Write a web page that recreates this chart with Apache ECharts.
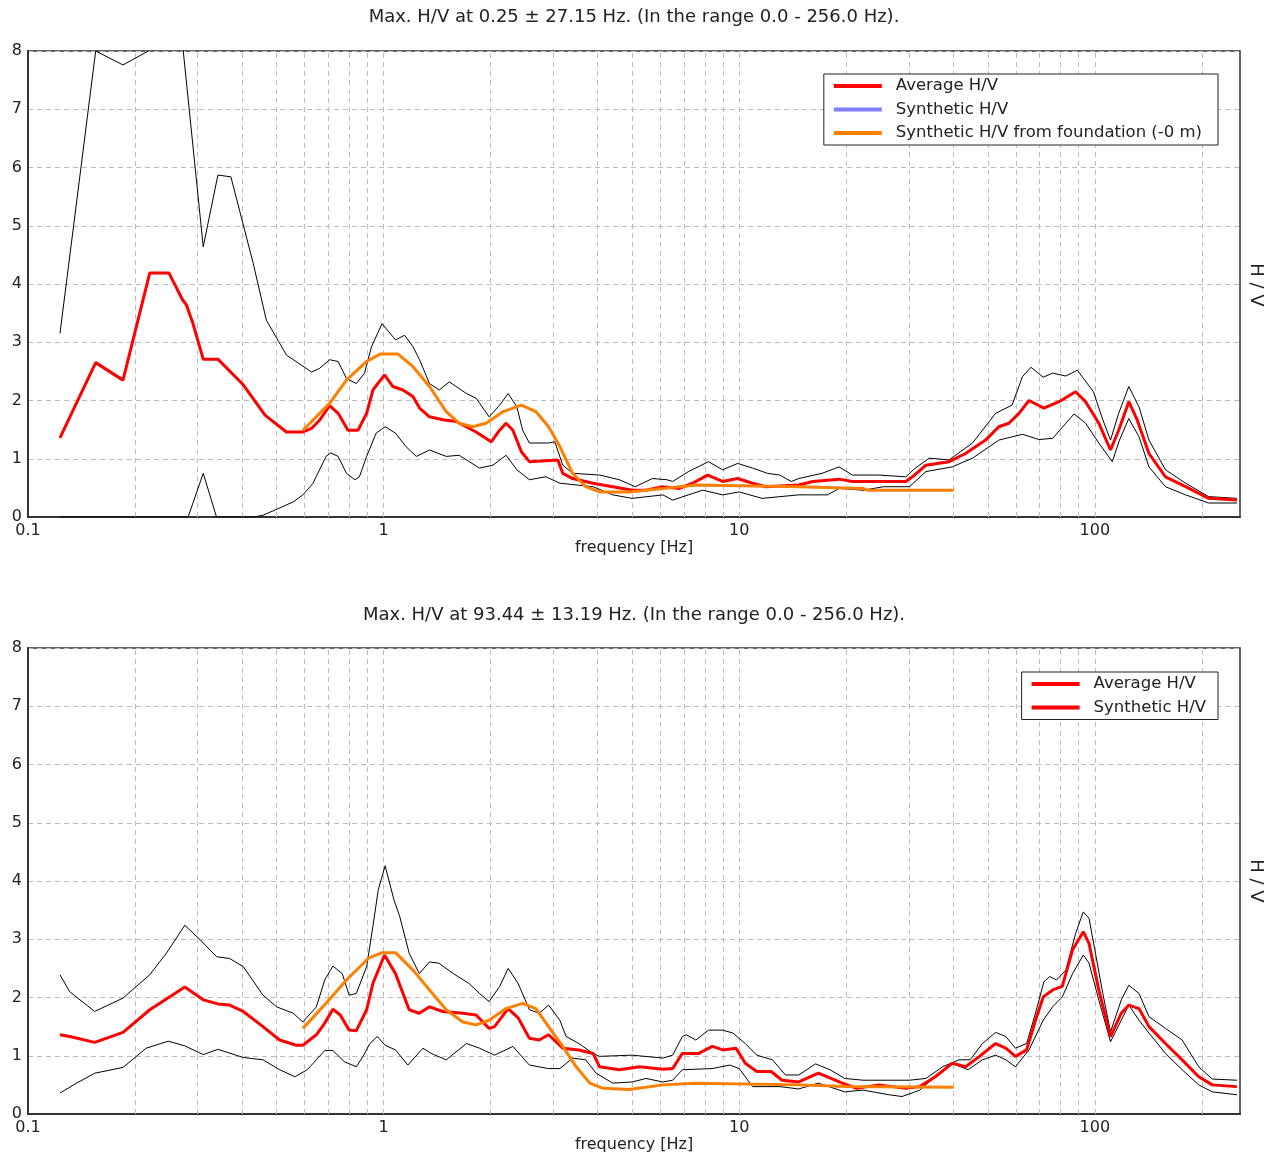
<!DOCTYPE html>
<html><head><meta charset="utf-8">
<script src="https://cdn.jsdelivr.net/npm/echarts@6/dist/echarts.min.js"></script>
<style>html,body{margin:0;padding:0;background:#fff}#c{width:1279px;height:1160px}</style>
</head><body><div id="c"></div><script>
// ---------- data ----------
const titles = [
  'Max. H/V at 0.25 \u00b1 27.15 Hz. (In the range 0.0 - 256.0 Hz).',
  'Max. H/V at 93.44 \u00b1 13.19 Hz. (In the range 0.0 - 256.0 Hz).'
];
const xTickLabels = [0.1, 1, 10, 100];
const yTickLabels = [0, 1, 2, 3, 4, 5, 6, 7, 8];
const legendTop = ['Average H/V', 'Synthetic H/V', 'Synthetic H/V from foundation (-0 m)'];
const legendBottom = ['Average H/V', 'Synthetic H/V #2'];

// top chart: [frequency Hz, H/V]
const topAvg = [[0.123,1.36],[0.155,2.65],[0.185,2.35],[0.220,4.19],[0.249,4.19],[0.272,3.73],[0.279,3.64],[0.291,3.32],[0.311,2.71],[0.342,2.71],[0.403,2.27],[0.464,1.75],[0.533,1.46],[0.593,1.46],[0.627,1.52],[0.660,1.66],[0.705,1.91],[0.745,1.78],[0.794,1.49],[0.847,1.49],[0.896,1.78],[0.933,2.18],[1.006,2.44],[1.062,2.24],[1.133,2.18],[1.209,2.07],[1.262,1.87],[1.346,1.72],[1.467,1.67],[1.60,1.64],[1.82,1.46],[2.007,1.29],[2.12,1.49],[2.21,1.61],[2.31,1.49],[2.44,1.12],[2.57,0.95],[3.09,0.98],[3.19,0.75],[3.40,0.66],[3.88,0.58],[4.41,0.52],[5.01,0.46],[5.47,0.46],[6.09,0.52],[6.78,0.49],[7.39,0.58],[8.15,0.72],[8.98,0.61],[9.89,0.66],[10.9,0.58],[11.9,0.52],[14.7,0.55],[16.1,0.61],[19.1,0.65],[20.8,0.61],[29.4,0.61],[30.7,0.69],[33.5,0.89],[38.9,0.95],[43.3,1.09],[49.3,1.32],[53.7,1.55],[57.3,1.61],[61.2,1.78],[65.3,2.0],[71.9,1.87],[79.3,1.98],[88.3,2.15],[94.2,1.98],[102.6,1.61],[110.7,1.15],[116.7,1.49],[124.6,1.98],[131.5,1.67],[142,1.09],[158,0.69],[180,0.52],[209,0.32],[251,0.29]];
const topUp = [[0.123,3.15],[0.155,8.0],[0.185,7.76],[0.218,8.0],[0.245,8.9],[0.265,8.8],[0.311,4.64],[0.342,5.87],[0.372,5.84],[0.43,4.35],[0.468,3.38],[0.533,2.78],[0.627,2.49],[0.66,2.55],[0.705,2.70],[0.745,2.67],[0.786,2.38],[0.838,2.29],[0.884,2.47],[0.924,2.92],[0.99,3.32],[1.08,3.04],[1.146,3.12],[1.21,2.92],[1.262,2.70],[1.346,2.29],[1.434,2.18],[1.53,2.32],[1.71,2.12],[1.82,2.04],[1.98,1.72],[2.12,1.92],[2.24,2.12],[2.37,1.89],[2.46,1.49],[2.57,1.27],[2.91,1.27],[3.03,1.29],[3.19,0.89],[3.40,0.75],[4.05,0.72],[4.6,0.64],[5.1,0.52],[5.7,0.66],[6.26,0.64],[6.5,0.61],[7.2,0.78],[8.2,0.95],[8.98,0.81],[9.9,0.92],[10.9,0.84],[12.0,0.75],[13.0,0.72],[14.0,0.61],[14.7,0.66],[17.1,0.75],[19.1,0.86],[20.8,0.72],[24.7,0.72],[29.4,0.69],[31.3,0.84],[34.2,1.01],[38.9,0.98],[45.3,1.27],[52.6,1.78],[58.5,1.92],[62.6,2.41],[66.1,2.57],[71.6,2.40],[76.1,2.47],[82.9,2.42],[89.3,2.52],[99.1,2.15],[105.3,1.67],[110.7,1.32],[116.7,1.78],[124.6,2.24],[133.1,1.89],[142,1.32],[158,0.81],[180,0.58],[209,0.35],[251,0.32]];
const topLo = [[0.123,0],[0.282,0],[0.311,0.75],[0.339,0],[0.43,0],[0.458,0.03],[0.521,0.18],[0.557,0.26],[0.593,0.38],[0.633,0.58],[0.689,1.04],[0.71,1.10],[0.745,1.04],[0.786,0.75],[0.83,0.64],[0.855,0.69],[0.896,1.04],[0.953,1.44],[1.01,1.55],[1.08,1.44],[1.155,1.21],[1.236,1.04],[1.346,1.15],[1.5,1.04],[1.63,1.06],[1.86,0.84],[2.03,0.89],[2.21,1.06],[2.37,0.81],[2.57,0.64],[2.86,0.69],[3.13,0.58],[3.88,0.52],[4.41,0.38],[5.0,0.32],[6.1,0.38],[6.5,0.29],[7.2,0.38],[7.9,0.46],[8.98,0.38],[10.0,0.43],[11.6,0.32],[14.7,0.38],[17.7,0.38],[19.1,0.49],[22.3,0.46],[25.5,0.52],[30.1,0.52],[33.5,0.78],[39.7,0.86],[45.3,1.01],[53.7,1.32],[62.6,1.42],[69.6,1.33],[76.1,1.35],[82.9,1.61],[87.4,1.77],[94.2,1.61],[102.6,1.27],[112,0.95],[117.3,1.32],[124.6,1.69],[133.1,1.38],[142,0.86],[158,0.52],[180,0.38],[209,0.24],[251,0.24]];
const topFound = [[0.593,1.49],[0.705,1.95],[0.786,2.35],[0.896,2.67],[0.98,2.80],[1.096,2.80],[1.21,2.58],[1.346,2.24],[1.5,1.81],[1.63,1.61],[1.78,1.55],[1.94,1.61],[2.17,1.81],[2.44,1.92],[2.68,1.81],[2.91,1.55],[3.13,1.21],[3.40,0.75],[3.70,0.52],[4.05,0.43],[4.9,0.43],[6.1,0.49],[7.55,0.55],[14.7,0.52],[22.3,0.49],[23,0.46],[40.1,0.46]];
const topSynth = [];

// bottom chart
const botAvg = [[0.123,1.36],[0.131,1.33],[0.154,1.23],[0.185,1.40],[0.220,1.79],[0.25,2.01],[0.276,2.18],[0.311,1.96],[0.342,1.89],[0.369,1.87],[0.403,1.76],[0.458,1.50],[0.51,1.27],[0.568,1.18],[0.593,1.18],[0.647,1.36],[0.683,1.56],[0.72,1.80],[0.755,1.70],[0.80,1.44],[0.838,1.43],[0.896,1.79],[0.933,2.24],[1.006,2.73],[1.08,2.41],[1.18,1.79],[1.26,1.73],[1.346,1.84],[1.467,1.76],[1.67,1.73],[1.82,1.70],[1.98,1.47],[2.05,1.50],[2.24,1.81],[2.39,1.65],[2.57,1.30],[2.74,1.27],[2.91,1.36],[3.19,1.13],[3.54,1.10],[3.88,1.04],[4.05,0.81],[4.6,0.76],[5.24,0.81],[6.1,0.77],[6.5,0.78],[6.92,1.04],[7.7,1.04],[8.4,1.16],[9.0,1.10],[9.8,1.13],[10.4,0.87],[11.2,0.73],[12.3,0.73],[13.2,0.58],[14.7,0.55],[16.7,0.70],[19.5,0.53],[21.4,0.44],[24.7,0.50],[29.4,0.44],[32.2,0.47],[35.6,0.64],[39.7,0.87],[43.3,0.81],[47.4,0.99],[52.6,1.21],[56.2,1.13],[59.8,0.99],[64.3,1.10],[68.1,1.61],[71.6,2.01],[76.1,2.13],[81.0,2.19],[86.6,2.82],[92.8,3.13],[96.3,2.93],[102.6,2.13],[110.7,1.33],[118.7,1.73],[124.6,1.87],[133.1,1.81],[142,1.50],[158,1.21],[176,0.93],[196,0.64],[214,0.50],[251,0.47]];
const botUp = [[0.123,2.39],[0.131,2.10],[0.154,1.76],[0.185,1.99],[0.22,2.39],[0.245,2.76],[0.276,3.24],[0.305,2.99],[0.339,2.70],[0.369,2.67],[0.403,2.53],[0.458,2.04],[0.5,1.84],[0.557,1.73],[0.593,1.58],[0.647,1.84],[0.683,2.30],[0.72,2.54],[0.765,2.41],[0.80,2.04],[0.838,2.07],[0.896,2.53],[0.933,3.22],[0.966,3.85],[1.01,4.26],[1.07,3.67],[1.11,3.39],[1.18,2.76],[1.26,2.41],[1.346,2.61],[1.43,2.59],[1.57,2.41],[1.74,2.24],[1.86,2.07],[1.98,1.93],[2.12,2.19],[2.24,2.50],[2.39,2.24],[2.57,1.79],[2.74,1.73],[2.91,1.87],[3.13,1.61],[3.26,1.33],[3.54,1.21],[3.88,1.04],[4.05,0.99],[5.0,1.01],[6.1,0.96],[6.5,1.01],[6.92,1.33],[7.1,1.36],[7.55,1.27],[8.2,1.44],[8.98,1.44],[9.6,1.39],[10.4,1.21],[11.2,1.01],[12.4,0.93],[13.5,0.67],[14.7,0.67],[16.4,0.86],[18.0,0.76],[19.8,0.61],[22.3,0.58],[30.1,0.58],[33.5,0.61],[37.3,0.81],[41.5,0.93],[44.6,0.93],[48.3,1.21],[52.6,1.40],[56.2,1.33],[59.8,1.13],[64.3,1.21],[68.1,1.73],[71.9,2.27],[74.7,2.36],[78.0,2.30],[82.9,2.47],[88.3,3.10],[92.8,3.47],[96.3,3.36],[100,2.82],[105.3,2.07],[110.7,1.41],[118.7,1.96],[124.6,2.21],[133.1,2.07],[142,1.67],[158,1.47],[176,1.27],[196,0.81],[214,0.60],[251,0.58]];
const botLo = [[0.123,0.36],[0.137,0.53],[0.154,0.70],[0.185,0.80],[0.215,1.13],[0.248,1.25],[0.276,1.17],[0.311,1.02],[0.342,1.11],[0.403,0.97],[0.458,0.93],[0.51,0.76],[0.563,0.64],[0.61,0.76],[0.647,0.93],[0.683,1.09],[0.72,1.09],[0.775,0.90],[0.838,0.81],[0.875,0.99],[0.915,1.21],[0.96,1.33],[1.01,1.18],[1.08,1.10],[1.17,0.84],[1.29,1.13],[1.36,1.04],[1.5,0.93],[1.71,1.21],[1.86,1.13],[2.05,1.01],[2.31,1.16],[2.57,0.84],[2.91,0.78],[3.13,0.78],[3.40,0.96],[3.7,0.93],[3.96,0.70],[4.41,0.53],[5.0,0.55],[5.47,0.61],[6.1,0.55],[6.5,0.58],[6.92,0.76],[8.4,0.78],[9.4,0.84],[10.0,0.78],[10.9,0.47],[13.0,0.47],[14.7,0.43],[16.7,0.53],[19.8,0.38],[22.3,0.41],[26.4,0.33],[28.7,0.30],[32.2,0.41],[34.6,0.58],[39.7,0.87],[44.0,0.76],[48.3,0.93],[52.6,1.01],[56.2,0.93],[59.8,0.81],[65.3,1.10],[71.6,1.61],[76.1,1.84],[81.0,2.01],[86.6,2.41],[92.8,2.73],[96.3,2.59],[102.6,1.96],[110.7,1.24],[118.7,1.61],[124.6,1.87],[133.1,1.61],[142,1.39],[158,1.04],[176,0.76],[196,0.50],[214,0.38],[251,0.33]];
const botFound = [[0.593,1.47],[0.689,1.90],[0.786,2.30],[0.905,2.67],[0.99,2.77],[1.08,2.77],[1.21,2.47],[1.346,2.13],[1.5,1.79],[1.67,1.58],[1.82,1.53],[1.98,1.61],[2.21,1.81],[2.46,1.90],[2.68,1.81],[2.91,1.50],[3.19,1.16],[3.48,0.81],[3.8,0.53],[4.14,0.44],[4.9,0.42],[6.1,0.50],[7.55,0.53],[14.7,0.50],[20,0.47],[40.1,0.46]];
const botSynth = [];

// ---------- chart ----------
const FONT = 'DejaVu Sans';
const TXT = '#222';
const GRIDC = '#bdbdbd';
const DASH = [5, 4];

const minorX = [];
xTickLabels.forEach(d => { for (let m = 1; m <= 9; m++) { const v = +(d * m).toPrecision(6); if (v > 0.1 && v < 256) minorX.push(v); } });

const chart = echarts.init(document.getElementById('c'), null, {renderer: 'canvas'});

const grids = [
  {left: 28, top: 51, width: 1212, height: 466},
  {left: 28, top: 648, width: 1212, height: 466}
];

function xAxis(i) {
  return {
    type: 'log', logBase: 10, min: 0.1, max: 256, gridIndex: i,
    axisLine: {show: true, lineStyle: {color: '#333', width: 2}},
    axisTick: {show: false}, splitLine: {show: false},
    axisLabel: {
      color: TXT, fontFamily: FONT, fontSize: 16, margin: 6,
      formatter: v => {
        const hit = xTickLabels.find(t => Math.abs(Math.log10(v) - Math.log10(t)) < 1e-6);
        return hit !== undefined ? String(hit) : '';
      }
    },
    name: 'frequency [Hz]', nameLocation: 'middle', nameGap: 22,
    nameTextStyle: {color: TXT, fontFamily: FONT, fontSize: 16}
  };
}
function yAxis(i) {
  return {
    type: 'value', min: yTickLabels[0], max: yTickLabels[yTickLabels.length - 1], interval: 1, gridIndex: i,
    axisLine: {show: true, lineStyle: {color: '#333', width: 2}},
    axisTick: {show: false},
    splitLine: {show: true, lineStyle: {color: GRIDC, type: DASH, width: 1}},
    axisLabel: {color: TXT, fontFamily: FONT, fontSize: 16, margin: 6}
  };
}
function line(name, data, i, color, width, z) {
  return {
    type: 'line', name, data, xAxisIndex: i, yAxisIndex: i,
    showSymbol: false, symbol: 'none', smooth: false, clip: true, silent: true,
    lineStyle: {color, width}, itemStyle: {color}, z
  };
}
function gridHolder(i) {
  return {
    type: 'line', name: 'grid' + i, data: [], xAxisIndex: i, yAxisIndex: i, z: 1, silent: true,
    markLine: {
      silent: true, symbol: ['none', 'none'], animation: false, z: 1,
      label: {show: false},
      lineStyle: {color: GRIDC, type: DASH, width: 1},
      data: minorX.map(v => ({xAxis: v}))
    }
  };
}

const sets = [
  {avg: topAvg, up: topUp, lo: topLo, found: topFound},
  {avg: botAvg, up: botUp, lo: botLo, found: botFound}
];
const series = [];
sets.forEach((s, i) => {
  series.push(gridHolder(i));
  series.push(line('std+ ' + i, s.up, i, '#000', 1, 3));
  series.push(line('std- ' + i, s.lo, i, '#000', 1, 3));
  series.push(line('Average H/V', s.avg, i, '#ff0000', 3, 4));
  series.push(line('Synthetic H/V from foundation (-0 m)', s.found, i, '#ff8000', 3, 5));
});
series.push(line('Synthetic H/V', topSynth, 0, '#8080ff', 3, 4));
series.push(line('Synthetic H/V #2', botSynth, 1, '#ff0000', 3, 4));

function legend(names, top, padRight) {
  return {
    orient: 'vertical', top, right: 61, icon: 'rect', itemWidth: 48, itemHeight: 4, itemGap: 5.5,
    padding: [3, padRight, 3, 10], borderColor: '#222', borderWidth: 1, backgroundColor: '#fff',
    selectedMode: false, z: 10,
    formatter: n => n.replace(' #2', ''),
    textStyle: {color: TXT, fontFamily: FONT, fontSize: 16.5, lineHeight: 18, padding: [0, 0, 0, 9]},
    data: names
  };
}

const option = {
  animation: false,
  backgroundColor: '#fff',
  grid: grids.map(g => Object.assign({show: true, borderColor: '#333', borderWidth: 1.5, backgroundColor: 'transparent'}, g)),
  xAxis: [xAxis(0), xAxis(1)],
  yAxis: [yAxis(0), yAxis(1)],
  legend: [legend(legendTop, 74, 16), legend(legendBottom, 672, 12)],
  series,
  graphic: [
    {type: 'text', x: 634, y: 17, silent: true, style: {text: titles[0], font: '18px "DejaVu Sans"', fill: TXT, align: 'center', verticalAlign: 'middle'}},
    {type: 'text', x: 634, y: 615, silent: true, style: {text: titles[1], font: '18px "DejaVu Sans"', fill: TXT, align: 'center', verticalAlign: 'middle'}},
    {type: 'text', x: 1256, y: 285, rotation: -Math.PI / 2, silent: true, style: {text: 'H / V', font: '18px "DejaVu Sans"', fill: TXT, align: 'center', verticalAlign: 'middle'}},
    {type: 'text', x: 1256, y: 881, rotation: -Math.PI / 2, silent: true, style: {text: 'H / V', font: '18px "DejaVu Sans"', fill: TXT, align: 'center', verticalAlign: 'middle'}}
  ]
};
chart.setOption(option);
</script></body></html>
